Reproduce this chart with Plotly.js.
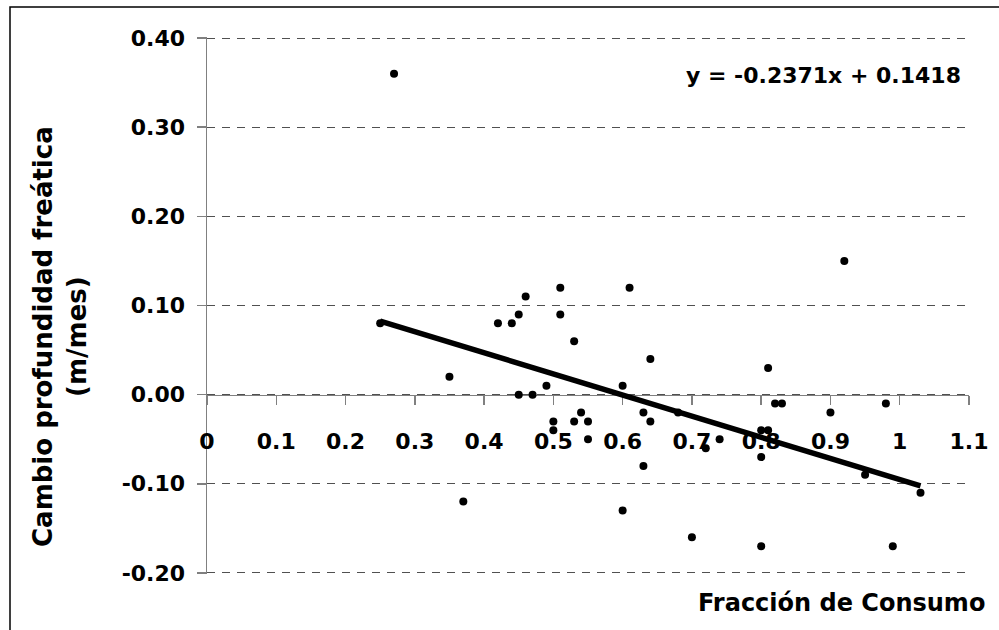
<!DOCTYPE html>
<html>
<head>
<meta charset="utf-8">
<script src="https://cdn.plot.ly/plotly-3.0.1.min.js"></script>
<style>
  html, body { margin: 0; padding: 0; background: #fff; }
  #chart { width: 999px; height: 630px; }
</style>
</head>
<body>
<div id="chart"></div>
<script>
// Data
const fraccionConsumo = [0.25,0.27,0.35,0.37,0.42,0.44,0.45,0.45,0.46,0.47,0.49,0.50,0.50,0.51,0.51,0.53,0.53,0.54,0.55,0.55,0.60,0.60,0.61,0.63,0.63,0.64,0.64,0.68,0.70,0.72,0.74,0.80,0.80,0.80,0.81,0.81,0.82,0.83,0.90,0.92,0.95,0.98,0.99,1.03];
const cambioProfundidad = [0.08,0.36,0.02,-0.12,0.08,0.08,0.09,0.00,0.11,0.00,0.01,-0.03,-0.04,0.12,0.09,0.06,-0.03,-0.02,-0.03,-0.05,0.01,-0.13,0.12,-0.02,-0.08,0.04,-0.03,-0.02,-0.16,-0.06,-0.05,-0.04,-0.07,-0.17,-0.04,0.03,-0.01,-0.01,-0.02,0.15,-0.09,-0.01,-0.17,-0.11];

const trendSlope = -0.2371;
const trendIntercept = 0.1418;
const equationText = 'y = -0.2371x + 0.1418';

const xTickVals = [0,0.1,0.2,0.3,0.4,0.5,0.6,0.7,0.8,0.9,1,1.1];
const xTickText = ['0','0.1','0.2','0.3','0.4','0.5','0.6','0.7','0.8','0.9','1','1.1'];
const yTickVals = [-0.2,-0.1,0,0.1,0.2,0.3,0.4];
const yTickText = ['-0.20','-0.10','0.00','0.10','0.20','0.30','0.40'];

const xTitle = 'Fracción de Consumo';
const yTitle = 'Cambio profundidad freática<br>(m/mes)';

// Trend line derived from the fitted equation over the data's x extent
const trendX = [Math.min(...fraccionConsumo), Math.max(...fraccionConsumo)];
const trendY = trendX.map(v => trendSlope * v + trendIntercept);

const FONT = 'DejaVu Sans, Liberation Sans, Arial, sans-serif';

const traces = [
  {
    x: fraccionConsumo, y: cambioProfundidad,
    type: 'scatter', mode: 'markers',
    marker: { color: '#000', size: 8, line: { width: 0 } },
    showlegend: false, hoverinfo: 'x+y'
  },
  {
    x: trendX, y: trendY,
    type: 'scatter', mode: 'lines',
    line: { color: '#000', width: 5.5 },
    showlegend: false, hoverinfo: 'skip'
  }
];

// small padding so the edge gridlines at -0.20 and 0.40 are drawn
const yMin = -0.2012, yMax = 0.4012;

const layout = {
  width: 999, height: 630,
  margin: { l: 207, r: 30, t: 37, b: 56, pad: 0 },
  paper_bgcolor: '#fff', plot_bgcolor: '#fff',
  font: { family: FONT, color: '#000', size: 22, weight: 'bold' },
  showlegend: false,
  xaxis: {
    range: [0, 1.1],
    anchor: 'free',
    position: (0 - yMin) / (yMax - yMin),
    tickmode: 'array', tickvals: xTickVals, ticktext: xTickText,
    showline: true, linecolor: '#808080', linewidth: 1.5,
    ticks: 'outside', ticklen: 9, tickcolor: '#808080', tickwidth: 1.5,
    showgrid: false, zeroline: false,
    tickfont: { family: FONT, size: 22, weight: 'bold', color: '#000' },
    ticklabelstandoff: 17,
    layer: 'below traces'
  },
  yaxis: {
    range: [yMin, yMax],
    tickmode: 'array', tickvals: yTickVals, ticktext: yTickText,
    showline: true, linecolor: '#808080', linewidth: 1.5,
    ticks: 'outside', ticklen: 9, tickcolor: '#808080', tickwidth: 1.5,
    showgrid: true, gridcolor: '#505050', gridwidth: 1, griddash: '8px,7px',
    zeroline: false,
    tickfont: { family: FONT, size: 22, weight: 'bold', color: '#000' },
    ticklabelstandoff: 7,
    layer: 'below traces'
  },
  annotations: [
    {
      text: equationText, xref: 'paper', yref: 'paper',
      x: (963 - 207) / 762, y: 1 - (76 - 37) / 537,
      xanchor: 'right', yanchor: 'middle', showarrow: false,
      font: { family: FONT, size: 22, weight: 'bold', color: '#000' }
    },
    {
      text: xTitle, xref: 'paper', yref: 'paper',
      x: (987 - 207) / 762, y: 1 - (603 - 37) / 537,
      xanchor: 'right', yanchor: 'middle', showarrow: false,
      font: { family: FONT, size: 24, weight: 'bold', color: '#000' }
    },
    {
      text: yTitle, xref: 'paper', yref: 'paper',
      x: (60 - 207) / 762, y: 1 - (337 - 37) / 537,
      xanchor: 'center', yanchor: 'middle', textangle: -90, showarrow: false,
      font: { family: FONT, size: 26, weight: 'bold', color: '#000' }
    }
  ],
  shapes: [
    {
      type: 'rect', xref: 'paper', yref: 'paper', layer: 'above',
      x0: (10 - 207) / 762, x1: 1.2,
      y0: -0.3, y1: 1 + (37 - 7) / 537,
      line: { color: '#000', width: 1.5 }, fillcolor: 'rgba(0,0,0,0)'
    }
  ]
};

Plotly.newPlot('chart', traces, layout, { displayModeBar: false, staticPlot: true });
</script>
</body>
</html>
